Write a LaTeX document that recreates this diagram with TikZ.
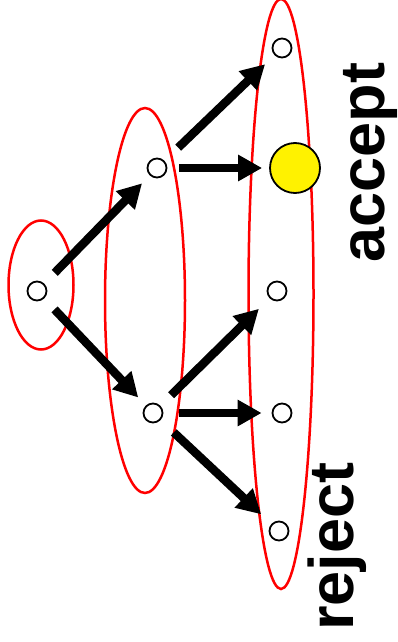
\documentclass[tikz,border=0pt]{standalone}
\usepackage{fontspec}
\setmainfont{Liberation Sans}
\usetikzlibrary{arrows.meta}
\tikzset{
  state/.style={circle, draw=black, line width=1.8pt, fill=white, minimum size=19pt, inner sep=0pt},
  goal/.style={circle, draw=black, line width=1.8pt, fill=yellow, minimum size=50pt, inner sep=0pt},
  arr/.style={line width=8.5pt, -{Triangle[length=24pt,width=25pt]}},
  layer/.style={draw=red, line width=2.5pt},
  lbl/.style={rotate=90, anchor=base, font=\bfseries\fontsize{63}{63}\selectfont}
}
\begin{document}
\begin{tikzpicture}[x=1pt, y=-1pt]
  \useasboundingbox (0,0) rectangle (398,642);
  % level sets
  \draw[layer] (41,285) ellipse [x radius=32.5pt, y radius=64.5pt];
  \draw[layer] (145,300.5) ellipse [x radius=40pt, y radius=192.5pt];
  \draw[layer] (281,294) ellipse [x radius=32.5pt, y radius=295pt];
  % states
  \node[state] (r0) at (37,291) {};
  \node[state] (m1) at (157,168) {};
  \node[state] (m2) at (153,413) {};
  \node[state] (t1) at (282,48) {};
  \node[goal]  (t2) at (295,168) {};
  \node[state] (t3) at (277,291) {};
  \node[state] (t4) at (282,413) {};
  \node[state] (t5) at (279,531) {};
  % transitions
  \draw[arr, shorten <=15pt, shorten >=11pt] (r0) -- (m1);
  \draw[arr, shorten <=15pt, shorten >=11pt] (r0) -- (m2);
  \draw[arr, shorten <=19pt, shorten >=13pt] (m1) -- (t1);
  \draw[arr, shorten <=12pt, shorten >=7pt] (m1) -- (t2);
  \draw[arr, shorten <=15pt, shorten >=15pt] (m2) -- (t3);
  \draw[arr, shorten <=16pt, shorten >=10pt] (m2) -- (t4);
  \draw[arr, shorten <=18pt, shorten >=14pt] (m2) -- (t5);
  % labels
  \node[lbl] (acc) at (384,162.5) {accept};
  \node[lbl] (rej) at (353,546.5) {reject};
\end{tikzpicture}
\end{document}
